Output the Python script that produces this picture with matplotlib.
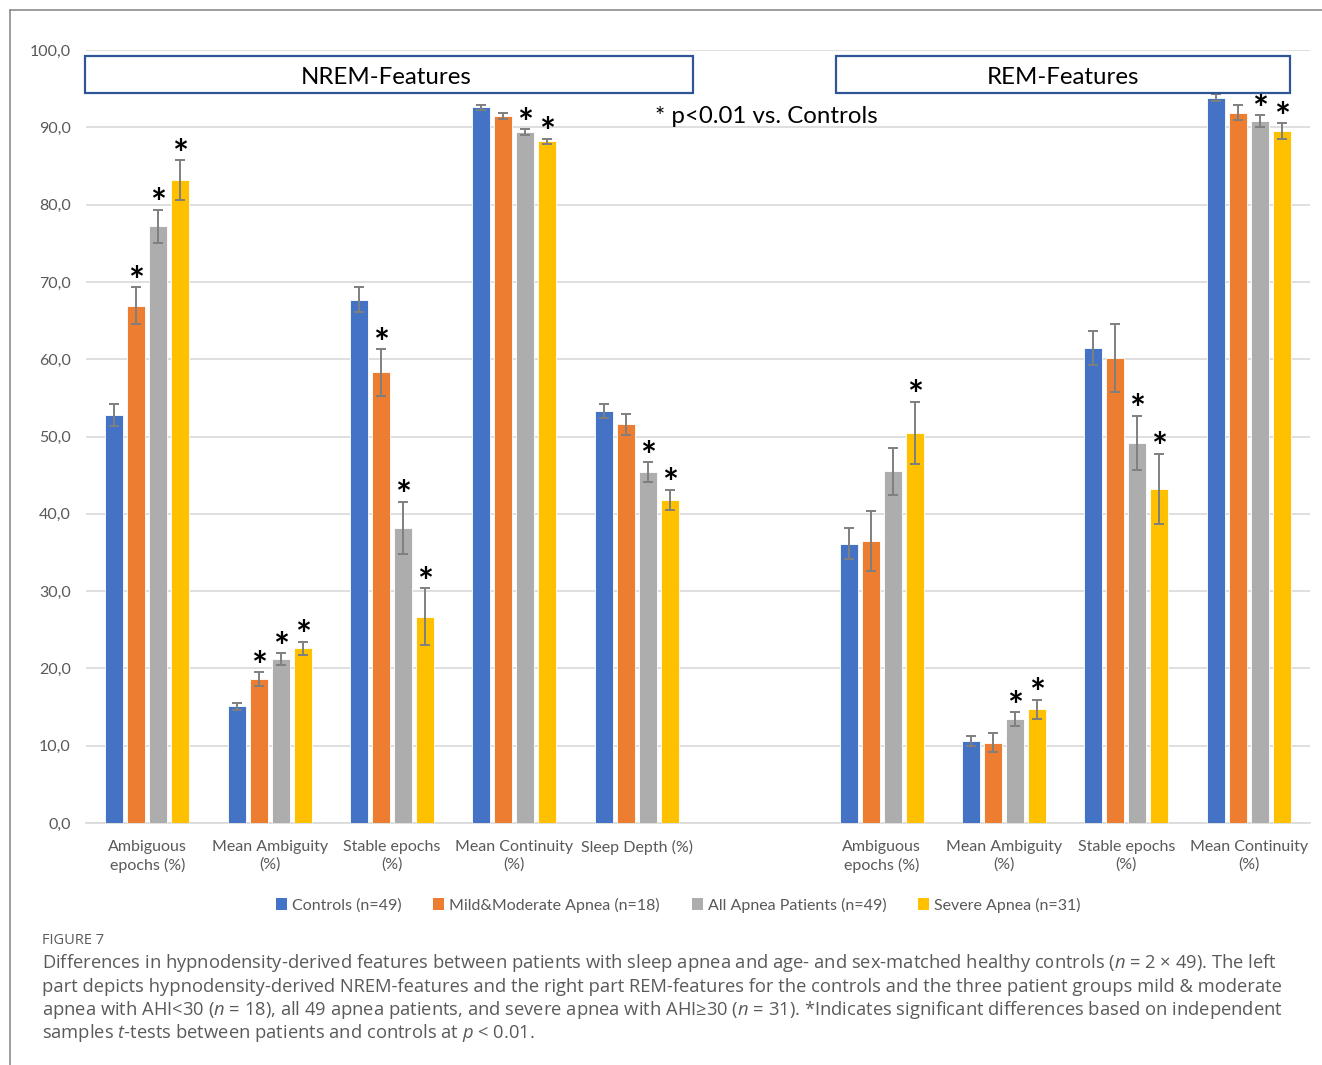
import numpy as np
import matplotlib
matplotlib.use("Agg")
import matplotlib.pyplot as plt
from matplotlib.patches import Patch, Rectangle
from matplotlib.lines import Line2D

plt.rcParams['font.family'] = ['Lato', 'DejaVu Sans']
plt.rcParams['mathtext.fontset'] = 'custom'
plt.rcParams['mathtext.it'] = 'Open Sans:italic'
plt.rcParams['mathtext.rm'] = 'Open Sans'

nan = np.nan
categories = ["Ambiguous\nepochs (%)", "Mean Ambiguity\n(%)", "Stable epochs\n(%)",
              "Mean Continuity\n(%)", "Sleep Depth (%)\n", "",
              "Ambiguous\nepochs (%)", "Mean Ambiguity\n(%)", "Stable epochs\n(%)",
              "Mean Continuity\n(%)"]

series_names = ["Controls (n=49)", "Mild&Moderate Apnea (n=18)",
                "All Apnea Patients (n=49)", "Severe Apnea (n=31)"]

controls = [52.8, 15.1, 67.7, 92.6, 53.3, nan, 36.1, 10.6, 61.5, 93.8]
mild = [66.9, 18.6, 58.3, 91.5, 51.6, nan, 36.5, 10.4, 60.2, 91.9]
all_apnea = [77.2, 21.2, 38.2, 89.4, 45.4, nan, 45.5, 13.4, 49.2, 90.8]
severe = [83.2, 22.6, 26.7, 88.2, 41.8, nan, 50.5, 14.7, 43.2, 89.5]

controls_err = [1.4, 0.45, 1.6, 0.3, 0.85, nan, 2.0, 0.6, 2.2, 0.45]
mild_err = [2.4, 0.9, 3.0, 0.4, 1.35, nan, 3.85, 1.2, 4.4, 0.95]
all_apnea_err = [2.15, 0.75, 3.35, 0.35, 1.25, nan, 3.05, 0.9, 3.5, 0.75]
severe_err = [2.55, 0.85, 3.65, 0.3, 1.3, nan, 4.0, 1.2, 4.55, 1.0]

# significance vs. controls (p<0.01)
controls_sig = [0, 0, 0, 0, 0, 0, 0, 0, 0, 0]
mild_sig = [1, 1, 1, 0, 0, 0, 0, 0, 0, 0]
all_apnea_sig = [1, 1, 1, 1, 1, 0, 0, 1, 1, 1]
severe_sig = [1, 1, 1, 1, 1, 0, 1, 1, 1, 1]

colors = ["#4472C4", "#ED7D31", "#ADADAD", "#FFC000"]
values = [controls, mild, all_apnea, severe]
errors = [controls_err, mild_err, all_apnea_err, severe_err]
sigs = [controls_sig, mild_sig, all_apnea_sig, severe_sig]

fig = plt.figure(figsize=(13.22, 10.65), dpi=100)
ax = fig.add_axes([86 / 1322, 1 - 823 / 1065, 1224 / 1322, 773 / 1065])

x = np.arange(len(categories))
step = 0.18
width = 0.147
for k in range(4):
    xs = x + (k - 1.5) * step
    v = np.array(values[k], dtype=float)
    e = np.array(errors[k], dtype=float)
    ax.bar(xs, v, width, color=colors[k], edgecolor="white", linewidth=0.6, zorder=3)
    ax.errorbar(xs, v, yerr=e, fmt="none", ecolor="#7F7F7F", elinewidth=1.4,
                capsize=3.6, capthick=1.4, zorder=4)
    for xi, vi, ei, s in zip(xs, v, e, sigs[k]):
        if s:
            ax.text(xi, vi + ei - 1.6, "*", ha="center", va="bottom",
                    fontsize=27, fontweight="bold", color="black", zorder=5)

ax.set_xlim(-0.5, 9.5)
ax.set_ylim(0, 100)
ax.set_yticks(np.arange(0, 101, 10))
ax.set_yticklabels([f"{t:.1f}".replace(".", ",") for t in np.arange(0, 101, 10)])
ax.set_xticks(x)
ax.set_xticklabels(categories, linespacing=1.35, va="top")
ax.tick_params(axis="both", length=0, colors="#595959", labelsize=11.5)
ax.tick_params(axis="x", pad=12)
ax.tick_params(axis="y", pad=11)
ax.grid(axis="y", color="#D9D9D9", linewidth=1.2, zorder=0)
for side in ["top", "right", "left"]:
    ax.spines[side].set_visible(False)
ax.spines["bottom"].set_color("#D9D9D9")
ax.spines["bottom"].set_linewidth(1.2)

# section boxes
ax.add_patch(Rectangle((-0.51, 94.5), 4.97, 4.7, fill=False, edgecolor="#2F5597",
                       linewidth=1.6, zorder=6, clip_on=False))
ax.text(1.95, 96.5, "NREM-Features", ha="center", va="center", fontsize=17.3, zorder=7)
ax.add_patch(Rectangle((5.63, 94.5), 3.71, 4.7, fill=False, edgecolor="#2F5597",
                       linewidth=1.6, zorder=6, clip_on=False))
ax.text(7.485, 96.5, "REM-Features", ha="center", va="center", fontsize=17.3, zorder=7)
ax.text(4.15, 91.4, "* p<0.01 vs. Controls", ha="left", va="center", fontsize=17.3, zorder=7)

handles = [Patch(facecolor=c, edgecolor="none") for c in colors]
fig.legend(handles, series_names, loc="center", bbox_to_anchor=(0.513, 1 - 905 / 1065),
           ncol=4, frameon=False, handlelength=0.7, handleheight=0.7,
           handletextpad=0.3, columnspacing=2.0, fontsize=11.5, labelcolor="#595959")

# outer frame
fig.add_artist(Line2D([10 / 1322, 10 / 1322], [0, 1 - 10 / 1065], color="#8C8C8C", lw=1.2))
fig.add_artist(Line2D([10 / 1322, 1], [1 - 10 / 1065, 1 - 10 / 1065], color="#8C8C8C", lw=1.2))

cap_color = "#5A5A5A"
fig.text(42 / 1322, 1 - 940 / 1065, "FIGURE 7", ha="left", va="center",
         fontsize=10.5, color=cap_color, family="Open Sans")
caption = [
    "Differences in hypnodensity-derived features between patients with sleep apnea and age- and sex-matched healthy controls ($n$ = 2 × 49). The left",
    "part depicts hypnodensity-derived NREM-features and the right part REM-features for the controls and the three patient groups mild & moderate",
    "apnea with AHI<30 ($n$ = 18), all 49 apnea patients, and severe apnea with AHI≥30 ($n$ = 31). *Indicates significant differences based on independent",
    "samples $t$-tests between patients and controls at $p$ < 0.01.",
]
for i, line in enumerate(caption):
    fig.text(42 / 1322, 1 - (963 + i * 23.5) / 1065, line, ha="left", va="center",
             fontsize=13.2, color=cap_color, family="Open Sans")

fig.savefig("out.png", dpi=100)
